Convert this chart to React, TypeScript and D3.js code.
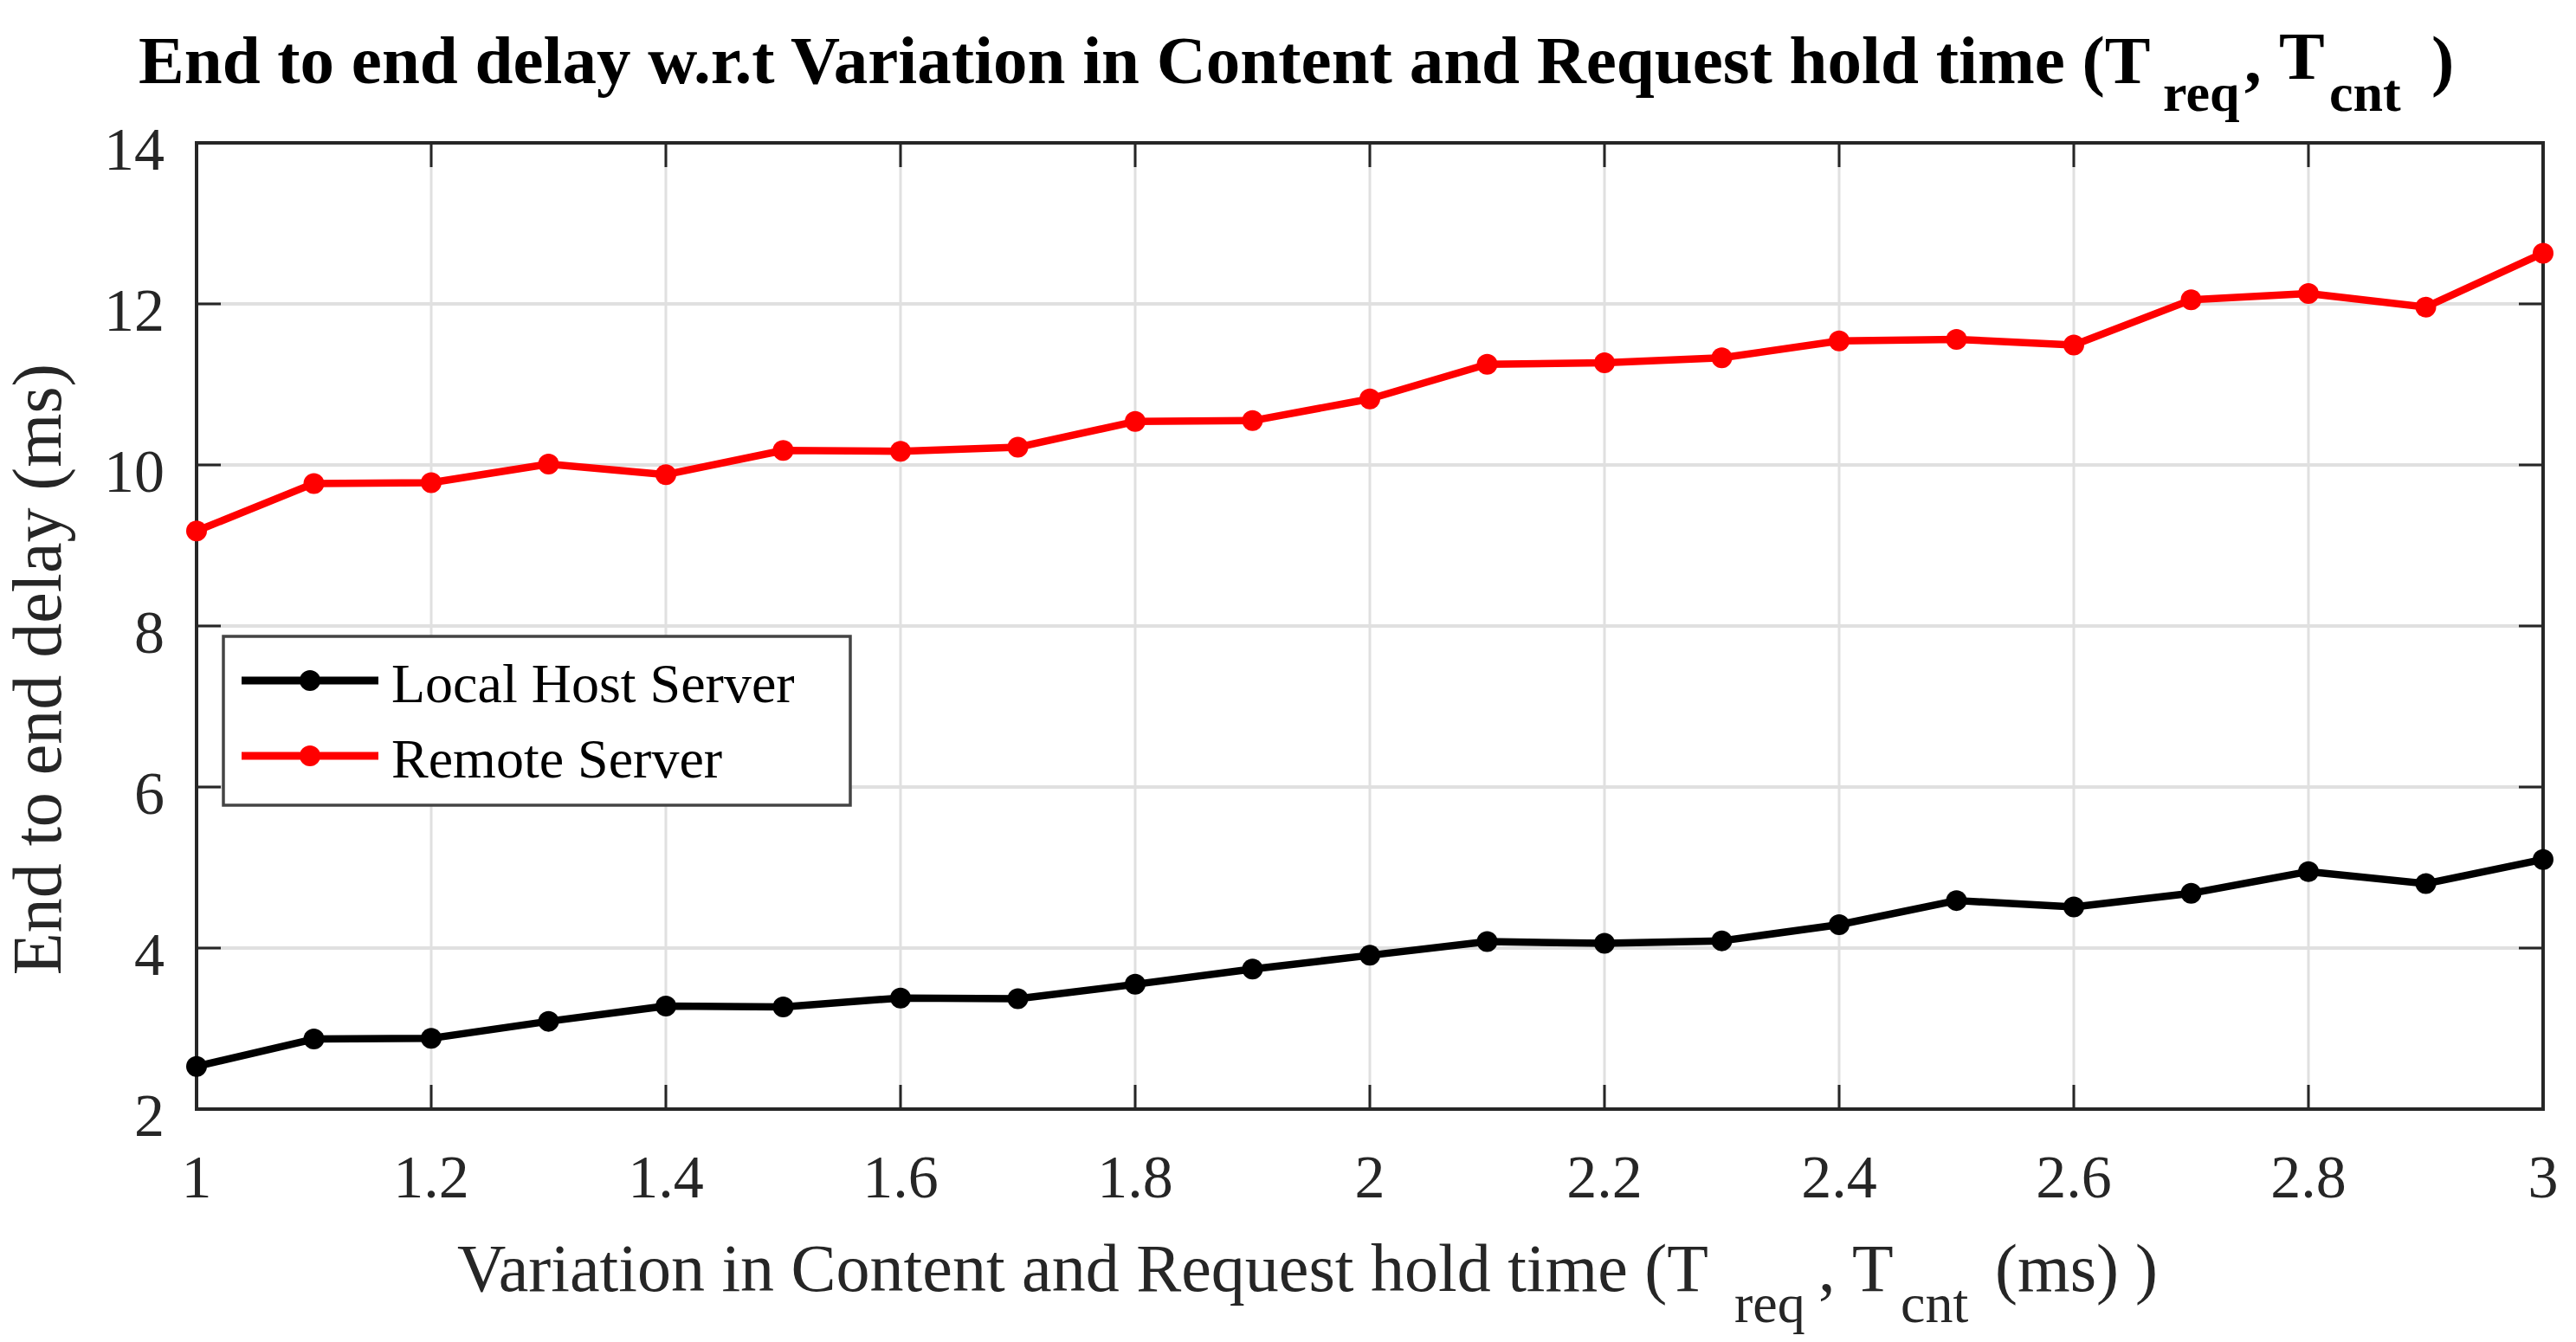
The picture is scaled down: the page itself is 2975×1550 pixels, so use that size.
import React from 'react';
import * as d3 from 'd3';

const xValues = [1.0, 1.1, 1.2, 1.3, 1.4, 1.5, 1.6, 1.7, 1.8, 1.9, 2.0, 2.1, 2.2, 2.3, 2.4, 2.5, 2.6, 2.7, 2.8, 2.9, 3.0];
const localHost = [2.53, 2.87, 2.88, 3.09, 3.28, 3.27, 3.38, 3.37, 3.55, 3.74, 3.91, 4.08, 4.06, 4.09, 4.29, 4.59, 4.51, 4.68, 4.95, 4.80, 5.10];
const remoteServer = [9.18, 9.77, 9.78, 10.01, 9.88, 10.18, 10.17, 10.22, 10.54, 10.55, 10.82, 11.25, 11.27, 11.33, 11.54, 11.56, 11.49, 12.05, 12.13, 11.96, 12.63];
const xTicks = [1, 1.2, 1.4, 1.6, 1.8, 2, 2.2, 2.4, 2.6, 2.8, 3];
const yTicks = [2, 4, 6, 8, 10, 12, 14];
const seriesNames = ['Local Host Server', 'Remote Server'];
const seriesColors = ['#000000', '#ff0000'];

const W = 2975;
const H = 1550;
const M = { left: 227, right: 2937, top: 165, bottom: 1281 };
const FONT = '"Liberation Serif", "Times New Roman", Times, serif';
const AX = '#262626';

export default function App() {
  const x = d3.scaleLinear().domain([1, 3]).range([M.left, M.right]);
  const y = d3.scaleLinear().domain([2, 14]).range([M.bottom, M.top]);
  const series = [localHost, remoteServer];
  const line = d3
    .line<number>()
    .x((_, i) => x(xValues[i]))
    .y((d) => y(d));
  const tickLen = 28;
  const fmt = (t: number) => String(+t.toFixed(1));
  const legendRows = [786, 873];

  return (
    <svg
      width={W}
      height={H}
      viewBox={`0 0 ${W} ${H}`}
      style={{ position: 'absolute', left: 0, top: 0, display: 'block', background: '#fff' }}
      fontFamily={FONT}
    >
      <rect x={0} y={0} width={W} height={H} fill="#fff" />
      {/* grid */}
      {xTicks.map((t) => (
        <line key={'gx' + t} x1={x(t)} x2={x(t)} y1={M.top} y2={M.bottom} stroke="#e0e0e0" strokeWidth={3} />
      ))}
      {yTicks.map((t) => (
        <line key={'gy' + t} x1={M.left} x2={M.right} y1={y(t)} y2={y(t)} stroke="#e0e0e0" strokeWidth={4} />
      ))}
      {/* ticks */}
      {xTicks.map((t) => (
        <g key={'tx' + t} stroke={AX} strokeWidth={3}>
          <line x1={x(t)} x2={x(t)} y1={M.bottom} y2={M.bottom - tickLen} />
          <line x1={x(t)} x2={x(t)} y1={M.top} y2={M.top + tickLen} />
        </g>
      ))}
      {yTicks.map((t) => (
        <g key={'ty' + t} stroke={AX} strokeWidth={3}>
          <line x1={M.left} x2={M.left + tickLen} y1={y(t)} y2={y(t)} />
          <line x1={M.right} x2={M.right - tickLen} y1={y(t)} y2={y(t)} />
        </g>
      ))}
      {/* box */}
      <rect
        x={M.left}
        y={M.top}
        width={M.right - M.left}
        height={M.bottom - M.top}
        fill="none"
        stroke={AX}
        strokeWidth={4}
      />
      {/* tick labels */}
      {xTicks.map((t) => (
        <text key={'lx' + t} x={x(t)} y={M.bottom + 102} fontSize={70} textAnchor="middle" fill={AX}>
          {fmt(t)}
        </text>
      ))}
      {yTicks.map((t) => (
        <text key={'ly' + t} x={190} y={y(t) + 31} fontSize={70} textAnchor="end" fill={AX}>
          {fmt(t)}
        </text>
      ))}
      {/* series */}
      {series.map((s, si) => (
        <g key={'s' + si}>
          <path d={line(s) || ''} fill="none" stroke={seriesColors[si]} strokeWidth={8.5} strokeLinejoin="round" />
          {s.map((v, i) => (
            <circle key={i} cx={x(xValues[i])} cy={y(v)} r={12} fill={seriesColors[si]} />
          ))}
        </g>
      ))}
      {/* legend */}
      <rect x={258} y={735} width={724} height={195} fill="#fff" stroke="#444" strokeWidth={3.5} />
      {seriesNames.map((n, i) => (
        <g key={'lg' + i}>
          <line x1={279} x2={437} y1={legendRows[i]} y2={legendRows[i]} stroke={seriesColors[i]} strokeWidth={9} />
          <circle cx={358} cy={legendRows[i]} r={12} fill={seriesColors[i]} />
          <text x={452} y={legendRows[i] + 25} fontSize={64} fill="#000">
            {n}
          </text>
        </g>
      ))}
      {/* title */}
      <text x={160} y={96} fontSize={79} fontWeight="bold" fill="#000">
        End to end delay w.r.t Variation in Content and Request hold time (T
        <tspan x={2498} y={128} fontSize={62}>req</tspan>
        <tspan x={2592} y={96}>,</tspan>
        <tspan x={2632} y={91}>T</tspan>
        <tspan x={2690} y={128} fontSize={62}>cnt</tspan>
        <tspan x={2808} y={96}>)</tspan>
      </text>
      {/* x axis title */}
      <text x={528} y={1491} fontSize={78} fill={AX}>
        Variation in Content and Request hold time (T
        <tspan x={2003} y={1527} fontSize={64}>req</tspan>
        <tspan x={2100} y={1491}>,</tspan>
        <tspan x={2139} y={1491}>T</tspan>
        <tspan x={2195} y={1527} fontSize={64}>cnt</tspan>
        <tspan x={2304} y={1491}>(ms)</tspan>
        <tspan x={2466} y={1491}>)</tspan>
      </text>
      {/* y axis title */}
      <text transform={`translate(70, 773) rotate(-90)`} fontSize={80} textAnchor="middle" fill={AX}>
        End to end delay (ms)
      </text>
    </svg>
  );
}
